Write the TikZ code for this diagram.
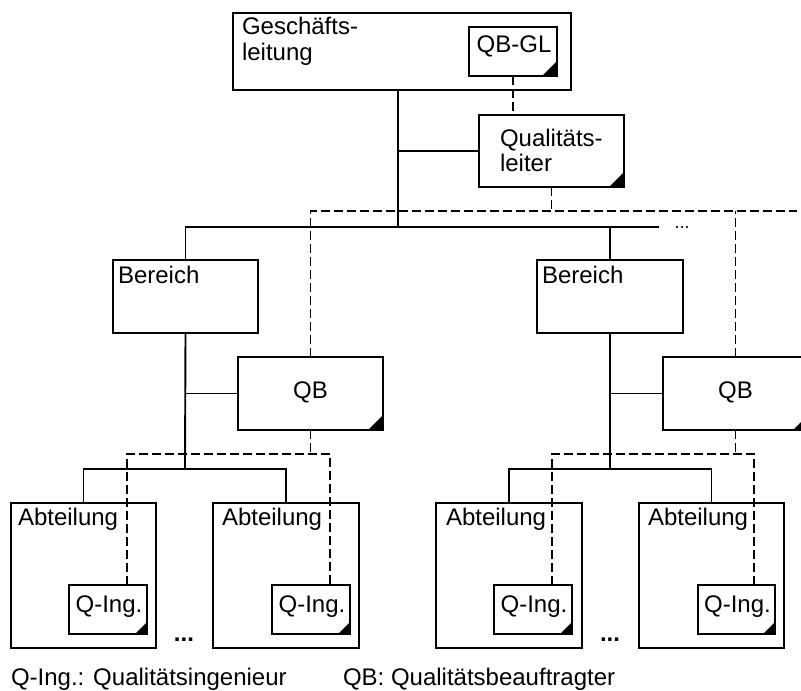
\documentclass[tikz,border=0pt]{standalone}
\usepackage{fontspec}
\setmainfont{Liberation Sans}
\usetikzlibrary{calc}
\newcommand\orgbox[6][]{\node[box,#1,minimum width={#5-#3},minimum height={#6-#4}] (#2) at (#3,#4) {};}
\begin{document}
\begin{tikzpicture}[x=1pt,y=-1pt,line width=1.9pt,
  every node/.style={font=\fontsize{24}{28}\selectfont,inner sep=0pt,outer sep=0pt},
  box/.style={draw,line width=1.9pt,anchor=north west},
  qbox/.style={path picture={\fill[black] (path picture bounding box.south east) -- ++(-#1,0pt) -- ++(#1,#1) -- cycle;}},
  qbox/.default=15pt,
  lbl/.style={anchor=base west},
  clbl/.style={anchor=base},
  dsh/.style={dash pattern=on 9pt off 4pt},
  dotsmall/.style={anchor=base,font=\fontsize{18}{20}\selectfont},
  dotbig/.style={anchor=base,font=\bfseries\fontsize{24}{28}\selectfont}]
\clip (0,0) rectangle (801,691);
\fill[white] (0,0) rectangle (801,691);
% boxes
\orgbox{gl}{233}{13}{571}{90}
\orgbox[qbox]{qbgl}{469}{27}{557}{76}
\orgbox[qbox]{ql}{479}{115}{624}{187}
\orgbox{b1}{113}{260}{258}{333}
\orgbox{b2}{537}{260}{683}{333}
\orgbox[qbox]{qb1}{238}{357}{383}{430}
\orgbox[qbox]{qb2}{663}{357}{808}{430}
\orgbox{a1}{11}{503}{156}{648}
\orgbox{a2}{213}{503}{359}{648}
\orgbox{a3}{436}{503}{582}{648}
\orgbox{a4}{639}{503}{784}{648}
\orgbox[qbox=12pt]{qi1}{69}{585}{147}{634}
\orgbox[qbox=12pt]{qi2}{272}{585}{350}{634}
\orgbox[qbox=12pt]{qi3}{494}{585}{572}{634}
\orgbox[qbox=12pt]{qi4}{698}{585}{775}{634}
% texts
\node[lbl] (tgl1) at (242,34) {Geschäfts-};
\node[lbl] (tgl2) at (242,60) {leitung};
\node[clbl] (tqbgl) at ($(qbgl.north)+(1,25)$) {QB-GL};
\node[lbl] (tql1) at (500,146) {Qualitäts-};
\node[lbl] (tql2) at (500,171) {leiter};
\node[lbl] (tb1) at (118,283) {Bereich};
\node[lbl] (tb2) at (542,283) {Bereich};
\node[clbl] (tqb1) at ($(qb1.north)+(0,41)$) {QB};
\node[clbl] (tqb2) at ($(qb2.north)+(0,41)$) {QB};
\node[lbl] (ta1) at (18,525) {Abteilung};
\node[lbl] (ta2) at (222,525) {Abteilung};
\node[lbl] (ta3) at (446,525) {Abteilung};
\node[lbl] (ta4) at (648,525) {Abteilung};
\node[clbl] (tqi1) at ($(qi1.north)+(1,27)$) {Q-Ing.};
\node[clbl] (tqi2) at ($(qi2.north)+(1,27)$) {Q-Ing.};
\node[clbl] (tqi3) at ($(qi3.north)+(1,27)$) {Q-Ing.};
\node[clbl] (tqi4) at ($(qi4.north)+(1,27)$) {Q-Ing.};
\node[dotsmall] (dtop) at (682,228) {...};
\node[dotbig] (dl) at (184,641) {...};
\node[dotbig] (dr) at (610,641) {...};
\node[lbl] (leg1) at (11,685) {Q-Ing.: Qualitätsingenieur};
\node[lbl] (leg2) at (343,685) {QB: Qualitätsbeauftragter};
% solid connectors
\coordinate (bus) at (398,227);
\coordinate (busend) at (659,227);
\draw (bus |- gl.south) -- (bus);
\draw (bus |- ql.west) -- (ql.west);
\draw (b1.north) |- (busend);
\draw (b2.north) -- (b2.north |- busend);
\coordinate (j1) at (185,469);
\coordinate (j2) at (610,469);
\draw (b1.south) -- (j1);
\draw (b2.south) -- (j2);
\draw (b1.south |- qb1.west) -- (qb1.west);
\draw (b2.south |- qb2.west) -- (qb2.west);
\draw (a1.north) |- (j1) -| (a2.north);
\draw (a3.north) |- (j2) -| (a4.north);
% dashed connectors
\coordinate (dend) at (797,211);
\draw[dsh] (qbgl.south) -- (qbgl.south |- ql.north);
\draw[dsh] (ql.south) -- (ql.south |- dend);
\draw[dsh] (qb1.north) |- (dend);
\draw[dsh] (qb2.north) -- (qb2.north |- dend);
\coordinate (d1) at (127,454);
\coordinate (d2) at (330,454);
\coordinate (d3) at (552,454);
\coordinate (d4) at (754,454);
\draw[dsh] (qb1.south) -- (qb1.south |- d1);
\draw[dsh] (qb2.south) -- (qb2.south |- d3);
\draw[dsh] (d1 |- qi1.north) -- (d1) -- (d2) -- (d2 |- qi2.north);
\draw[dsh] (d3 |- qi3.north) -- (d3) -- (d4) -- (d4 |- qi4.north);
\end{tikzpicture}
\end{document}
